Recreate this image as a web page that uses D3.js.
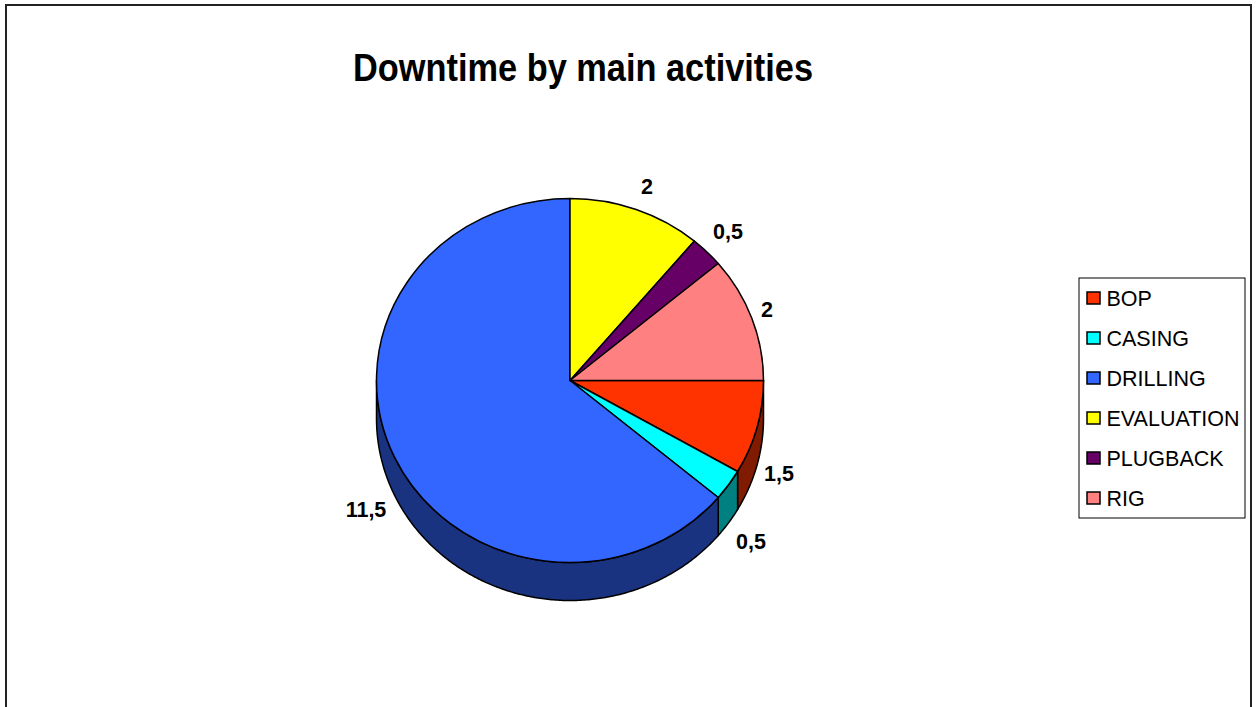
<!DOCTYPE html>
<html>
<head>
<meta charset="utf-8">
<script src="https://cdn.jsdelivr.net/npm/d3@7"></script>
<style>
  body { margin: 0; background: #fff; }
  text { font-family: "Liberation Sans", Arial, sans-serif; }
</style>
</head>
<body>
<div id="chart"></div>
<script>
// data
const categories = ["BOP", "CASING", "DRILLING", "EVALUATION", "PLUGBACK", "RIG"];
const values = [1.5, 0.5, 11.5, 2, 0.5, 2];
const labels = ["1,5", "0,5", "11,5", "2", "0,5", "2"];
const topColors = ["#ff3300", "#00ffff", "#3366ff", "#ffff00", "#660066", "#ff8080"];
const sideColors = ["#801a00", "#008080", "#1a3380", "#808000", "#330033", "#804040"];

const width = 1256, height = 707;
const cx = 570, cy = 380.5, rx = 193.5, ry = 182, depth = 38;

let svg = d3.select("#chart")
.append("svg")
.attr("width", width)
.attr("height", height);

// frame
svg.append("rect")
.attr("x", 6).attr("y", 5)
.attr("width", 1245).attr("height", 720)
.attr("fill", "#fff")
.attr("stroke", "#222")
.attr("stroke-width", 2);

svg.append("text")
.attr("x", 353)
.attr("y", 80.5)
.attr("textLength", 460)
.attr("lengthAdjust", "spacingAndGlyphs")
.attr("font-size", 39)
.attr("font-weight", "bold")
.text("Downtime by main activities");

// pie starts at 3 o'clock (first slice angle 90)
let pie = d3.pie().sort(null).startAngle(Math.PI / 2).endAngle(Math.PI / 2 + 2 * Math.PI);
let arcs = pie(values);

let px = a => cx + rx * Math.sin(a);
let py = a => cy - ry * Math.cos(a);

// side walls, only front half visible
let sides = svg.append("g");
arcs.forEach(function(d, i) {
  let segs = [];
  // check both the angle range and the wrapped one
  [0, -2 * Math.PI].forEach(function(off) {
    let a0 = Math.max(d.startAngle + off, Math.PI / 2);
    let a1 = Math.min(d.endAngle + off, 3 * Math.PI / 2);
    if (a1 > a0) segs.push([a0, a1]);
  });
  segs.forEach(function(s) {
    let n = Math.max(2, Math.ceil((s[1] - s[0]) / 0.01));
    let angs = d3.range(n + 1).map(k => s[0] + (s[1] - s[0]) * k / n);
    let pts = angs.map(a => [px(a), py(a)])
      .concat(angs.slice().reverse().map(a => [px(a), py(a) + depth]));
    sides.append("path")
    .attr("d", d3.line()(pts) + "Z")
    .attr("fill", sideColors[i])
    .attr("stroke", "#000")
    .attr("stroke-width", 1.5)
    .attr("stroke-linejoin", "round");
  });
});

// top faces
let arc = d3.arc().innerRadius(0).outerRadius(rx);
svg.append("g")
.attr("transform", "translate(" + cx + "," + cy + ") scale(1," + (ry / rx) + ")")
.selectAll("path")
.data(arcs)
.enter().append("path")
.attr("d", arc)
.attr("fill", (d, i) => topColors[i])
.attr("stroke", "#000")
.attr("stroke-width", 1.5)
.attr("vector-effect", "non-scaling-stroke")
.attr("stroke-linejoin", "round");

// data labels
const labelPos = [[779, 473], [751, 541], [366, 509], [647, 186], [728, 231], [767, 309]];
svg.append("g")
.selectAll("text")
.data(arcs)
.enter().append("text")
.attr("x", (d, i) => labelPos[i][0])
.attr("y", (d, i) => labelPos[i][1])
.attr("dy", "0.36em")
.attr("text-anchor", "middle")
.attr("font-size", 21.5)
.attr("font-weight", "bold")
.text((d, i) => labels[i]);

// legend
let legend = svg.append("g");
legend.append("rect")
.attr("x", 1079).attr("y", 278)
.attr("width", 166).attr("height", 240)
.attr("fill", "#fff")
.attr("stroke", "#000")
.attr("stroke-width", 1);

let items = legend.selectAll(".item")
.data(categories)
.enter().append("g")
.attr("class", "item")
.attr("transform", (d, i) => "translate(1087," + (298 + i * 40) + ")");

items.append("rect")
.attr("x", 0).attr("y", -6)
.attr("width", 13).attr("height", 12)
.attr("fill", (d, i) => topColors[i])
.attr("stroke", "#000")
.attr("stroke-width", 1.5);

items.append("text")
.attr("x", 19.5)
.attr("y", 0)
.attr("dy", "0.36em")
.attr("font-size", 21.5)
.text(d => d);
</script>
</body>
</html>
